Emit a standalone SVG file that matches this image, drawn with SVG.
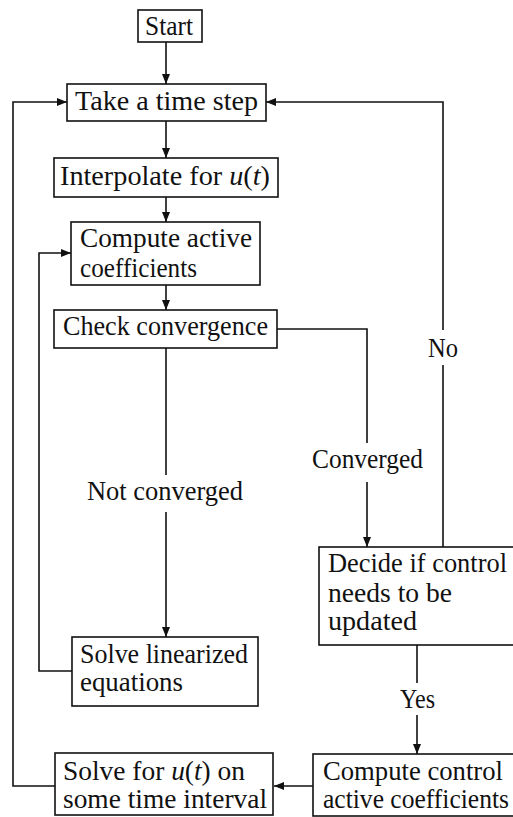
<svg xmlns="http://www.w3.org/2000/svg" width="513" height="817" viewBox="0 0 513 817">
<defs>
<style>
.box{fill:#fff;stroke:#111;stroke-width:1.6}
.ln{fill:none;stroke:#111;stroke-width:1.6}
.t{font-family:"Liberation Serif","Times New Roman",serif;font-size:28px;fill:#111}
.i{font-style:italic}
</style>
<marker id="ah" markerUnits="userSpaceOnUse" markerWidth="10" markerHeight="10" viewBox="0 0 10 10" refX="10" refY="5" orient="auto">
<path d="M0,1 L10,5 L0,9 Z" fill="#111"/>
</marker>
</defs>
<rect width="513" height="817" fill="#fff"/>
<g id="connectors">
<path class="ln" d="M166,42 V84" marker-end="url(#ah)"/>
<path class="ln" d="M166,121 V158" marker-end="url(#ah)"/>
<path class="ln" d="M166,197 V222" marker-end="url(#ah)"/>
<path class="ln" d="M166,285 V310" marker-end="url(#ah)"/>
<path class="ln" d="M166,348 V475"/>
<path class="ln" d="M166,512 V637" marker-end="url(#ah)"/>
<path class="ln" d="M72,671 H39 V253 H71" marker-end="url(#ah)"/>
<path class="ln" d="M277,329 H367 V443"/>
<path class="ln" d="M367,482 V547" marker-end="url(#ah)"/>
<path class="ln" d="M443,547 V365"/>
<path class="ln" d="M443,330 V102 H266" marker-end="url(#ah)"/>
<path class="ln" d="M417,645 V683"/>
<path class="ln" d="M417,715 V754" marker-end="url(#ah)"/>
<path class="ln" d="M313,786 H274" marker-end="url(#ah)"/>
<path class="ln" d="M55,786 H13 V102 H67" marker-end="url(#ah)"/>
<text class="t" x="87" y="500" textLength="156" lengthAdjust="spacingAndGlyphs">Not converged</text>
<text class="t" x="312" y="468" textLength="111" lengthAdjust="spacingAndGlyphs">Converged</text>
<text class="t" x="428" y="357" textLength="30" lengthAdjust="spacingAndGlyphs">No</text>
<text class="t" x="400" y="708" textLength="35" lengthAdjust="spacingAndGlyphs">Yes</text>
</g>
<g id="start">
<rect class="box" x="138" y="10" width="64" height="32"/>
<text class="t" x="145" y="35" textLength="48" lengthAdjust="spacingAndGlyphs">Start</text>
</g>
<g id="timestep">
<rect class="box" x="67" y="84" width="199" height="37"/>
<text class="t" x="75" y="110" textLength="183" lengthAdjust="spacingAndGlyphs">Take a time step</text>
</g>
<g id="interpolate">
<rect class="box" x="54" y="158" width="224" height="39"/>
<text class="t" x="60" y="185" textLength="210" lengthAdjust="spacingAndGlyphs">Interpolate for <tspan class="i">u</tspan>(<tspan class="i">t</tspan>)</text>
</g>
<g id="computeactive">
<rect class="box" x="71" y="222" width="189" height="63"/>
<text class="t" x="80" y="247" textLength="172" lengthAdjust="spacingAndGlyphs">Compute active</text>
<text class="t" x="80" y="277" textLength="117" lengthAdjust="spacingAndGlyphs">coefficients</text>
</g>
<g id="checkconv">
<rect class="box" x="54" y="310" width="223" height="38"/>
<text class="t" x="63" y="335" textLength="205" lengthAdjust="spacingAndGlyphs">Check convergence</text>
</g>
<g id="solvelin">
<rect class="box" x="72" y="637" width="186" height="69"/>
<text class="t" x="80" y="663" textLength="168" lengthAdjust="spacingAndGlyphs">Solve linearized</text>
<text class="t" x="80" y="691" textLength="103" lengthAdjust="spacingAndGlyphs">equations</text>
</g>
<g id="decide">
<rect class="box" x="319" y="547" width="200" height="98"/>
<text class="t" x="328" y="572" textLength="179" lengthAdjust="spacingAndGlyphs">Decide if control</text>
<text class="t" x="328" y="602" textLength="124" lengthAdjust="spacingAndGlyphs">needs to be</text>
<text class="t" x="328" y="630" textLength="89" lengthAdjust="spacingAndGlyphs">updated</text>
</g>
<g id="computecontrol">
<rect class="box" x="313" y="754" width="206" height="62"/>
<text class="t" x="323" y="780" textLength="180" lengthAdjust="spacingAndGlyphs">Compute control</text>
<text class="t" x="323" y="808" textLength="186" lengthAdjust="spacingAndGlyphs">active coefficients</text>
</g>
<g id="solveu">
<rect class="box" x="55" y="753" width="218" height="62"/>
<text class="t" x="63" y="780" textLength="182" lengthAdjust="spacingAndGlyphs">Solve for <tspan class="i">u</tspan>(<tspan class="i">t</tspan>) on</text>
<text class="t" x="63" y="808" textLength="204" lengthAdjust="spacingAndGlyphs">some time interval</text>
</g>
</svg>
